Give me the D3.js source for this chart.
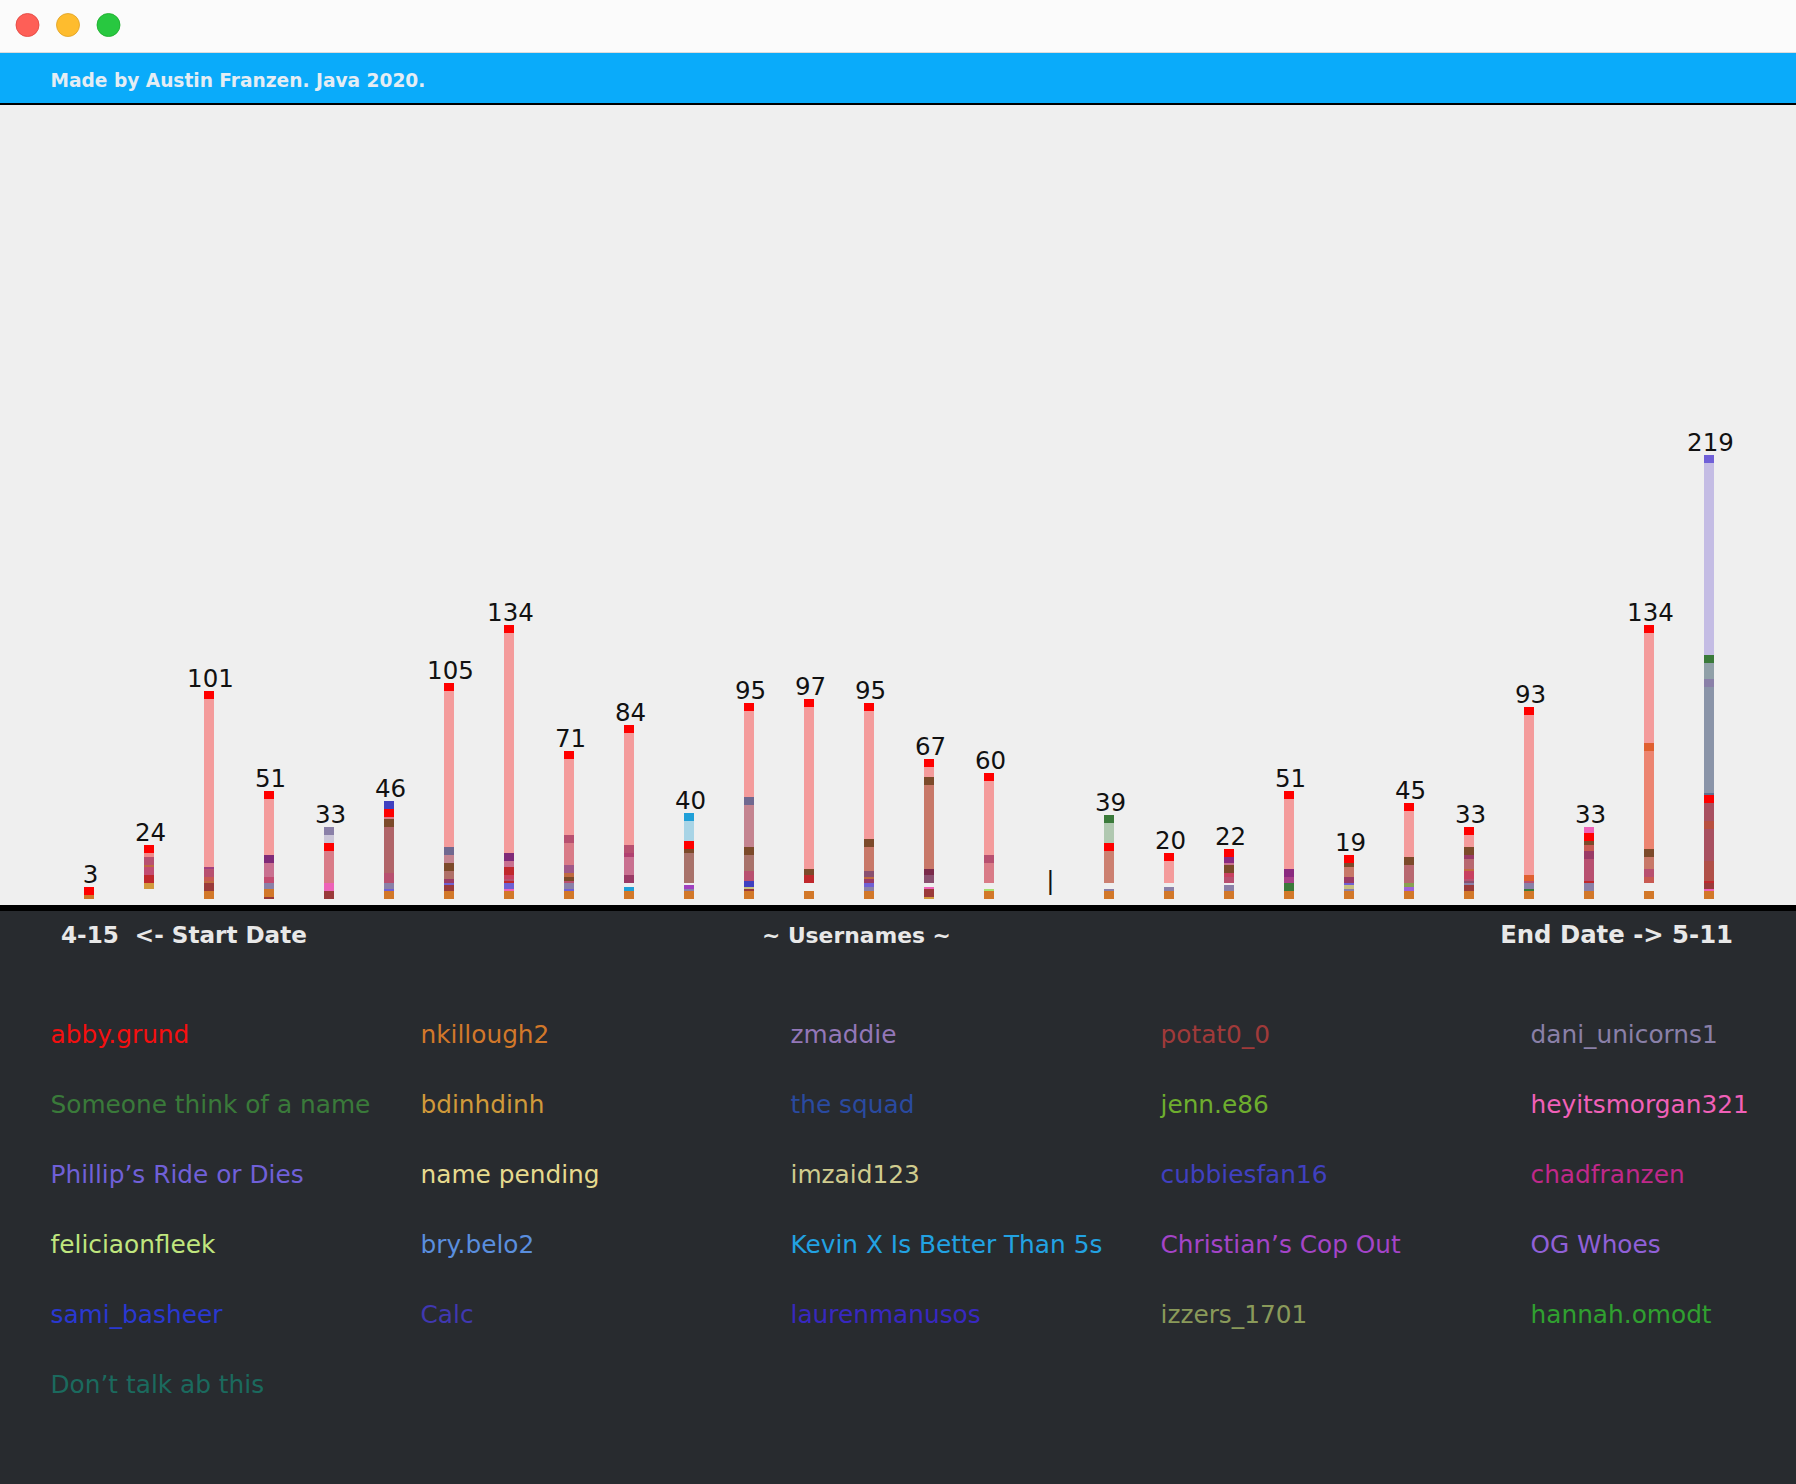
<!DOCTYPE html>
<html><head><meta charset="utf-8">
<script src="https://cdn.jsdelivr.net/npm/d3@7/dist/d3.min.js"></script>
<style>html,body{margin:0;padding:0;background:#fafafa;overflow:hidden}</style>
</head><body>
<svg id="c" width="1796" height="1484"></svg>
<script>
// ---------------- DATA ----------------
const users = ["abby.grund","nkillough2","zmaddie","potat0_0","dani_unicorns1",
  "Someone think of a name","bdinhdinh","the squad","jenn.e86","heyitsmorgan321",
  "Phillip’s Ride or Dies","name pending","imzaid123","cubbiesfan16","chadfranzen",
  "feliciaonfleek","bry.belo2","Kevin X Is Better Than 5s","Christian’s Cop Out","OG Whoes",
  "sami_basheer","Calc","laurenmanusos","izzers_1701","hannah.omodt",
  "Don’t talk ab this"];
const userColors = ["#f50f0f","#d2782a","#9377b8","#a03a3a","#8a80a8",
  "#3a7a3a","#d09a3a","#2a4aa0","#6eae2e","#f060b8",
  "#7060d8","#e6da8e","#d0cc8e","#4040c0","#c0288a",
  "#c0e67e","#5a8ede","#22a2e2","#a444c8","#9060d8",
  "#2a38d0","#4038b0","#3828c0","#8a9a5a","#30a030",
  "#1b6a5e"];

const startDate = "4-15", endDate = "5-11";
// message totals shown above each day's bar
const totals = [3,24,101,51,33,46,105,134,71,84,40,95,97,95,67,60,0,39,20,22,51,19,45,33,93,33,134,219];
// per-day stacked segments, bottom -> top: [shadeKey, units]
const segments = [
  [["O",2],["R",4]],
  [["G",5],["TAN",3],["CR",4],["RP",4],["OB",1],["RS",4],["LP",2],["R",4]],
  [["O",4],["DR",4],["OB",1],["CO",2],["RS",4],["PR",1],["P",84],["R",4]],
  [["DR",1],["O",4],["GP",3],["RP",3],["MP",7],["PU",4],["P",28],["R",4]],
  [["DR",4],["HP",4],["DP",16],["R",4],["LV",4],["GP",4]],
  [["O",4],["PB",1],["GP",3],["RS",5],["MB",23],["BR",4],["DP",1],["R",4],["BL",4]],
  [["O",4],["DR",3],["PB",1],["PL",2],["MV",4],["BR",4],["DM",4],["SL",4],["P",78],["R",4]],
  [["O",4],["HP",1],["PB",3],["CR",1],["RS",1],["RR",2],["CR",4],["MP",3],["PU",4],["P",110],["R",4]],
  [["O",4],["PB",1],["GP",3],["RS",1],["BR",2],["OB",2],["MPU",4],["DP",11],["RS",4],["P",38],["R",4]],
  [["O",4],["CY",2],["G",2],["PL",4],["MP",9],["MG2",2],["RS",4],["P",56],["R",4]],
  [["O",4],["GP",1],["PU2",2],["G",1],["MB2",15],["BR",2],["R",4],["LB",10],["CY",4]],
  [["O",4],["DR",1],["KH",1],["BL",3],["RS",1],["RS",4],["MB2",8],["BR",4],["DM",21],["SL",4],["P",43],["R",4]],
  [["O",4],["G",4],["CR",4],["BR",3],["P",81],["R",4]],
  [["O",4],["GP",2],["PB",2],["PL",2],["OB",1],["MA",3],["TC",12],["BR",4],["P",64],["R",4]],
  [["TAN",1],["DR",4],["HP",1],["G",2],["MA",4],["DPL",3],["TC",42],["BR",4],["P",5],["R",4]],
  [["O",4],["LM",1],["G",3],["DP",10],["RS",4],["P",37],["R",4]],
  [],
  [["O",4],["GP",1],["G",3],["TC2",16],["R",4],["LG",10],["GR",4]],
  [["O",4],["GP",2],["G",2],["P",11],["R",4]],
  [["O",4],["GP",3],["G",1],["RS",3],["RR",2],["BR",4],["MP",1],["PU3",3],["R",4]],
  [["O",4],["GR",4],["MG",3],["PU3",4],["P",35],["R",4]],
  [["O",4],["GP",1],["KH",2],["PB",1],["PL",3],["TC",5],["BR",2],["R",4]],
  [["O",4],["VI",2],["OL",2],["MR",9],["BR",4],["P",23],["R",4]],
  [["O",4],["DR",3],["GP",1],["MA",1],["RS",1],["RR",4],["OB",1],["MR",5],["PL",2],["BR",4],["P",6],["R",4]],
  [["O",4],["GR",1],["GP",3],["RS",1],["ORR",3],["P",80],["R",4]],
  [["O",4],["GP",4],["CR",1],["RS",11],["PL",4],["CO",3],["BR",2],["R",4],["HP",3]],
  [["O",4],["G",4],["CO",3],["RS",4],["TC",6],["BR",4],["SA",49],["ORR",4],["P",55],["R",4]],
  [["O",4],["HP",1],["DR",3],["CR",1],["RU",10],["MR2",16],["OR2",4],["MR2",9],["R",4],["SB",1],["SG",53],["GP",4],["GG",8],["GR",4],["LV2",96],["VC",4]]
];

// ---------------- STYLE ----------------
const shade = {
  R:"#ff0000",P:"#f49b9b",O:"#d27829",G:null,DR:"#9a3a3a",TAN:"#d39a3d",CR:"#c0282c",
  RS:"#b85070",LP:"#f08a8a",OB:"#c06a40",RP:"#c24c72",CO:"#c85a52",PR:"#a04080",
  PU:"#802a78",MP:"#c97090",GP:"#8a80a8",HP:"#ee62b8",DP:"#d97b87",LV:"#cbc6d8",
  BL:"#4040c0",BR:"#7c4a2a",MB:"#b06468",MB2:"#a8726a",PB:"#6f60d4",SL:"#706890",
  DM:"#c48490",MV:"#b07068",PL:"#9a3a66",RR:"#c84060",CY:"#20a0d8",LB:"#a8d4e6",
  PU2:"#a040c0",KH:"#c8c080",TC:"#c87868",MA:"#8a5070",DPL:"#7a2a4a",LM:"#a8e070",
  GR:"#3a7a3a",LG:"#b0c8b0",TC2:"#cc8070",PU3:"#8a2a80",MG:"#a84088",MG2:"#b04070",
  MR:"#b86870",OL:"#88a050",VI:"#a060d8",ORR:"#e06030",SA:"#ec8470",VC:"#7060d8",
  LV2:"#c4bce4",GG:"#90a0a8",SG:"#8a94a8",SB:"#607090",RU:"#b05048",MR2:"#a85060",
  OR2:"#b85040",MPU:"#a05888"
};

const W = 1796, H = 1484;
const svg = d3.select("#c");

// window chrome
svg.append("rect").attr("x",0).attr("y",0).attr("width",W).attr("height",53).attr("fill","#fbfbfb");
svg.append("rect").attr("x",0).attr("y",52).attr("width",W).attr("height",1).attr("fill","#dcdcdc");
[["#fe5f57","#e0443e"],["#febc2e","#dea123"],["#28c840","#1aab29"]].forEach((c,i)=>{
  svg.append("circle").attr("cx",27.5+40.5*i).attr("cy",25).attr("r",11.5)
    .attr("fill",c[0]).attr("stroke",c[1]).attr("stroke-width",0.8);
});
svg.append("rect").attr("x",0).attr("y",53).attr("width",W).attr("height",50).attr("fill","#0aabfa");
svg.append("rect").attr("x",0).attr("y",103).attr("width",W).attr("height",2).attr("fill","#000");
svg.append("rect").attr("x",0).attr("y",105).attr("width",W).attr("height",800).attr("fill","#efefef");
svg.append("rect").attr("x",0).attr("y",905).attr("width",W).attr("height",6).attr("fill","#000");
svg.append("rect").attr("x",0).attr("y",911).attr("width",W).attr("height",H-911).attr("fill","#282b2f");

function fit(sel, target){
  const w = sel.node().getComputedTextLength();
  const fs = parseFloat(sel.attr("font-size"));
  sel.attr("font-size", (fs*target/w).toFixed(2));
}

const title = svg.append("text").attr("x",50.5).attr("y",87)
  .attr("font-family","DejaVu Sans").attr("font-weight","bold").attr("font-size",19)
  .attr("fill","#e4edf4").text("Made by Austin Franzen. Java 2020.");
fit(title, 375);

// ---------------- CHART ----------------
const baseline = 899;
const x = d3.scalePoint().domain(d3.range(totals.length)).range([89, 1709]);
const maxUnits = d3.max(segments, s => d3.sum(s, d => d[1]));
const y = d3.scaleLinear().domain([0, maxUnits]).range([baseline, baseline - maxUnits*2]);
const barW = 10;

const g = svg.append("g");
segments.forEach((segs, i) => {
  let acc = 0;
  const stacked = segs.map(([k, v]) => { const r = {k, y0: acc, y1: acc + v}; acc += v; return r; });
  g.selectAll(null).data(stacked.filter(d => shade[d.k])).enter().append("rect")
    .attr("x", x(i) - barW/2).attr("width", barW)
    .attr("y", d => y(d.y1)).attr("height", d => y(d.y0) - y(d.y1))
    .attr("fill", d => shade[d.k]);
});

g.selectAll("text.lbl").data(totals).enter().append("text").attr("class","lbl")
  .attr("x", (d,i) => x(i) + 1.5)
  .attr("y", d => y(d) - 10)
  .attr("text-anchor","middle")
  .attr("font-family","DejaVu Sans").attr("font-size",24.5).attr("fill","#111")
  .text(d => d === 0 ? "|" : d);

// ---------------- FOOTER ----------------
const hdrFont = t => t.attr("font-family","DejaVu Sans").attr("font-weight","bold")
  .attr("font-size",22).attr("fill","#e8e8e8");
const h1 = svg.append("text").attr("x",61).attr("y",943).attr("xml:space","preserve")
  .text(startDate + "  <- Start Date").call(hdrFont); fit(h1, 246);
const h2 = svg.append("text").attr("x",762).attr("y",943)
  .text("~ Usernames ~").call(hdrFont); fit(h2, 189);
const h3 = svg.append("text").attr("x",1733).attr("y",943).attr("text-anchor","end")
  .text("End Date -> " + endDate).call(hdrFont); fit(h3, 233);

const leg = svg.append("g").selectAll("text").data(users).enter().append("text")
  .attr("x", (d,i) => 50.5 + 370 * (i % 5))
  .attr("y", (d,i) => 1043 + 70 * Math.floor(i / 5))
  .attr("font-family","DejaVu Sans").attr("font-size",24.8)
  .attr("fill", (d,i) => userColors[i]).text(d => d);
</script>
</body></html>
